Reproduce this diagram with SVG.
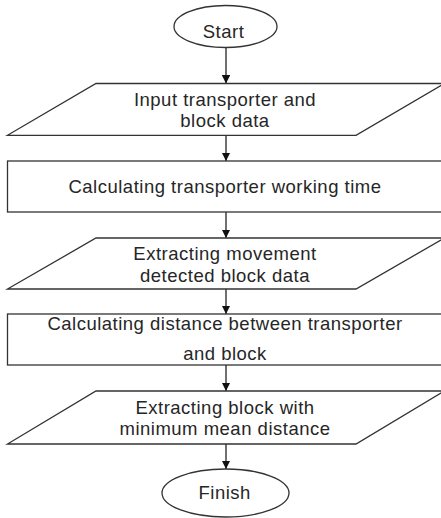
<svg xmlns="http://www.w3.org/2000/svg" width="441" height="518" viewBox="0 0 441 518">
<style>
.shape{fill:#fff;stroke:#333;stroke-width:1.3}
.lbl{font-family:"Liberation Sans",Arial,sans-serif;font-size:18.5px;letter-spacing:0.5px;fill:#262626;text-anchor:middle}
.conn{stroke:#222;stroke-width:1.3;fill:none}
</style>
<defs>
<marker id="arr" viewBox="0 0 10 10" refX="10" refY="5" markerWidth="8.5" markerHeight="8.5" markerUnits="userSpaceOnUse" orient="auto">
<path d="M0,0 L10,5 L0,10 z" fill="#111"/>
</marker>
</defs>
<rect width="441" height="518" fill="#fff"/>
<g id="connectors">
<line class="conn" x1="226" y1="48" x2="226" y2="83.5" marker-end="url(#arr)"/>
<line class="conn" x1="226" y1="135.3" x2="226" y2="161" marker-end="url(#arr)"/>
<line class="conn" x1="226" y1="212" x2="226" y2="238" marker-end="url(#arr)"/>
<line class="conn" x1="226" y1="289" x2="226" y2="314" marker-end="url(#arr)"/>
<line class="conn" x1="226" y1="365" x2="226" y2="391" marker-end="url(#arr)"/>
<line class="conn" x1="226" y1="444" x2="226" y2="469" marker-end="url(#arr)"/>
</g>
<g id="start">
<ellipse class="shape" cx="225.5" cy="26.5" rx="51.5" ry="21"/>
<text class="lbl" x="223.5" y="38">Start</text>
</g>
<g id="input">
<polygon class="shape" points="96,83.5 444.5,83.5 356,135.3 7.5,135.3"/>
<text class="lbl" x="225" y="105.7">Input transporter and</text>
<text class="lbl" x="225" y="126.7">block data</text>
</g>
<g id="calc-time">
<rect class="shape" x="7.5" y="161" width="440" height="51"/>
<text class="lbl" x="225" y="192.7">Calculating transporter working time</text>
</g>
<g id="extract-movement">
<polygon class="shape" points="96,238 444.5,238 356,289 7.5,289"/>
<text class="lbl" x="225" y="259.5">Extracting movement</text>
<text class="lbl" x="225" y="281.5">detected block data</text>
</g>
<g id="calc-distance">
<rect class="shape" x="7.5" y="314" width="440" height="51"/>
<text class="lbl" x="225" y="330">Calculating distance between transporter</text>
<text class="lbl" x="225" y="359.5">and block</text>
</g>
<g id="extract-min">
<polygon class="shape" points="96,391 444.5,391 356,444 7.5,444"/>
<text class="lbl" x="225" y="414">Extracting block with</text>
<text class="lbl" x="225" y="435">minimum mean distance</text>
</g>
<g id="finish">
<ellipse class="shape" cx="225.5" cy="493" rx="63.5" ry="24"/>
<text class="lbl" x="224.7" y="499.3">Finish</text>
</g>
</svg>
